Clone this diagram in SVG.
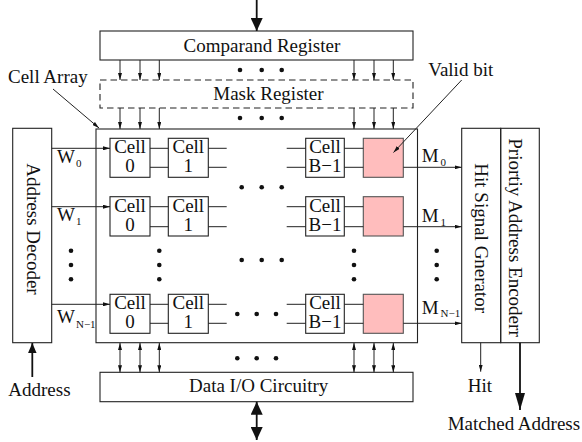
<svg xmlns="http://www.w3.org/2000/svg" width="582" height="442" viewBox="0 0 582 442">
<style>
text{font-family:"Liberation Serif","Times New Roman",serif;font-size:19px;fill:#111}
.box{fill:none;stroke:#222;stroke-width:1.1}
.cell{fill:#fff;stroke:#222;stroke-width:1.1}
.valid{fill:#ffbdbd;stroke:#555;stroke-width:1.1}
.ln{fill:none;stroke:#222;stroke-width:1}
.thick{fill:none;stroke:#111;stroke-width:1.8}
.dot{fill:#111}
.sub{font-size:11px}
.c{text-anchor:middle}
</style>
<defs>
<marker id="a" viewBox="0 0 7 4" refX="7" refY="2" markerWidth="7" markerHeight="4" markerUnits="userSpaceOnUse" orient="auto-start-reverse"><path d="M0,0L7,2L0,4z" fill="#111"/></marker>
<marker id="big" viewBox="0 0 13 12" refX="13" refY="6" markerWidth="13" markerHeight="12" markerUnits="userSpaceOnUse" orient="auto-start-reverse"><path d="M0,0L13,6L0,12z" fill="#111"/></marker>
<marker id="med" viewBox="0 0 10 8.5" refX="10" refY="4.25" markerWidth="10" markerHeight="8.5" markerUnits="userSpaceOnUse" orient="auto-start-reverse"><path d="M0,0L10,4.25L0,8.5z" fill="#111"/></marker>
<marker id="long" viewBox="0 0 17 10" refX="17" refY="5" markerWidth="17" markerHeight="10" markerUnits="userSpaceOnUse" orient="auto-start-reverse"><path d="M0,0L17,5L0,10z" fill="#111"/></marker>
</defs>

<g id="comparand-register"><rect class="box" x="100" y="31" width="313" height="29"/><text x="183.5" y="51.7">Comparand Register</text></g>
<g id="mask-register"><rect class="box" x="100" y="80" width="313" height="28" stroke-dasharray="6.5,4"/><text x="213.3" y="100">Mask Register</text></g>
<g id="address-decoder"><rect class="box" x="12.7" y="128.3" width="39" height="214.4"/><text transform="translate(26.5,163.3) rotate(90)">Address Decoder</text></g>
<g id="hit-signal-generator"><rect class="box" x="461.7" y="128.3" width="39" height="214.4"/><text transform="translate(475,163.3) rotate(90)">Hit Signal Gnerator</text></g>
<g id="priority-address-encoder"><rect class="box" x="500.7" y="128.3" width="38.6" height="214.4"/><text transform="translate(508.5,138.3) rotate(90)">Priortiy Address Encoderr</text></g>
<g id="data-io"><rect class="box" x="100" y="372.3" width="313" height="29.4"/><text x="189" y="391.7">Data I/O Circuitry</text></g>

<g id="cell-array">
<rect class="box" x="96" y="129" width="321.5" height="213.7"/>
<text x="8" y="83">Cell Array</text>
</g>

<g id="row-0">
<rect class="cell" x="110" y="138.3" width="40" height="39"/><text class="c" x="130" y="153.3">Cell</text><text class="c" x="130" y="172.3">0</text>
<rect class="cell" x="168.3" y="138.3" width="40" height="39"/><text class="c" x="188.3" y="153.3">Cell</text><text class="c" x="188.3" y="172.3">1</text>
<rect class="cell" x="305.7" y="138.3" width="38.6" height="39"/><text class="c" x="325" y="153.3">Cell</text><text class="c" x="325" y="172.3">B−1</text>
<rect class="valid" x="363.3" y="138.3" width="40" height="39"/>
</g>
<g id="row-1">
<rect class="cell" x="110" y="196.7" width="40" height="39.3"/><text class="c" x="130" y="211.7">Cell</text><text class="c" x="130" y="230.7">0</text>
<rect class="cell" x="168.3" y="196.7" width="40" height="39.3"/><text class="c" x="188.3" y="211.7">Cell</text><text class="c" x="188.3" y="230.7">1</text>
<rect class="cell" x="305.7" y="196.7" width="38.6" height="39.3"/><text class="c" x="325" y="211.7">Cell</text><text class="c" x="325" y="230.7">B−1</text>
<rect class="valid" x="363.3" y="196.7" width="40" height="39.3"/>
</g>
<g id="row-n-1">
<rect class="cell" x="110" y="294.3" width="40" height="39"/><text class="c" x="130" y="309.3">Cell</text><text class="c" x="130" y="328.3">0</text>
<rect class="cell" x="168.3" y="294.3" width="40" height="39"/><text class="c" x="188.3" y="309.3">Cell</text><text class="c" x="188.3" y="328.3">1</text>
<rect class="cell" x="305.7" y="294.3" width="38.6" height="39"/><text class="c" x="325" y="309.3">Cell</text><text class="c" x="325" y="328.3">B−1</text>
<rect class="valid" x="363.3" y="294.3" width="40" height="39"/>
</g>

<g id="labels">
<text x="57" y="162.7">W<tspan class="sub" dx="1" dy="4.5">0</tspan></text>
<text x="57" y="220.7">W<tspan class="sub" dx="1" dy="4.5">1</tspan></text>
<text x="57" y="323.3">W<tspan class="sub" dx="1" dy="4.5">N−1</tspan></text>
<text x="421.7" y="161.7">M<tspan class="sub" dx="2" dy="4">0</tspan></text>
<text x="421.7" y="221.7">M<tspan class="sub" dx="2" dy="4">1</tspan></text>
<text x="421.7" y="314.3">M<tspan class="sub" dx="2" dy="3">N−1</tspan></text>
<text x="428.3" y="76">Valid bit</text>
<text x="8.3" y="396">Address</text>
<text class="c" x="480" y="391.7">Hit</text>
<text x="447.7" y="430">Matched Address</text>
</g>

<g id="dots" class="dot">
<circle cx="240" cy="70" r="2.3"/><circle cx="261.7" cy="70" r="2.3"/><circle cx="281.7" cy="70" r="2.3"/>
<circle cx="240" cy="118" r="2.3"/><circle cx="261.7" cy="118" r="2.3"/><circle cx="281.7" cy="118" r="2.3"/>
<circle cx="241.7" cy="187.3" r="2.3"/><circle cx="261.7" cy="187.3" r="2.3"/><circle cx="281.7" cy="187.3" r="2.3"/>
<circle cx="241.7" cy="260" r="2.3"/><circle cx="261.7" cy="260" r="2.3"/><circle cx="281.7" cy="260" r="2.3"/>
<circle cx="237.3" cy="314" r="2.3"/><circle cx="256.7" cy="314" r="2.3"/><circle cx="276" cy="314" r="2.3"/>
<circle cx="237.3" cy="358.3" r="2.3"/><circle cx="256.7" cy="358.3" r="2.3"/><circle cx="276" cy="358.3" r="2.3"/>
<circle cx="71" cy="250.7" r="2.3"/><circle cx="71" cy="265" r="2.3"/><circle cx="71" cy="279.3" r="2.3"/>
<circle cx="159.3" cy="250.7" r="2.3"/><circle cx="159.3" cy="265" r="2.3"/><circle cx="159.3" cy="279.3" r="2.3"/>
<circle cx="354" cy="250.7" r="2.3"/><circle cx="354" cy="265" r="2.3"/><circle cx="354" cy="279.3" r="2.3"/>
<circle cx="436.7" cy="250.7" r="2.3"/><circle cx="436.7" cy="265" r="2.3"/><circle cx="436.7" cy="279.3" r="2.3"/>
</g>

<g id="connectors">
<line class="thick" x1="256.7" y1="0" x2="256.7" y2="31" marker-end="url(#big)"/>
<line class="thick" x1="256.7" y1="401.7" x2="256.7" y2="440" marker-start="url(#big)" marker-end="url(#big)"/>
<line class="thick" x1="32.3" y1="377" x2="32.3" y2="343" marker-end="url(#med)"/>
<line class="thick" x1="520" y1="342.7" x2="520" y2="410" marker-end="url(#long)"/>
<line class="ln" x1="480.7" y1="342.7" x2="480.7" y2="371.7" marker-end="url(#a)"/>
<g class="ln" marker-end="url(#a)">
<line x1="120" y1="60" x2="120" y2="80"/><line x1="140" y1="60" x2="140" y2="80"/><line x1="159.3" y1="60" x2="159.3" y2="80"/>
<line x1="354" y1="60" x2="354" y2="80"/><line x1="374" y1="60" x2="374" y2="80"/><line x1="393.3" y1="60" x2="393.3" y2="80"/>
<line x1="120" y1="108" x2="120" y2="129"/><line x1="140" y1="108" x2="140" y2="129"/><line x1="159.3" y1="108" x2="159.3" y2="129"/>
<line x1="354" y1="108" x2="354" y2="129"/><line x1="374" y1="108" x2="374" y2="129"/><line x1="393.3" y1="108" x2="393.3" y2="129"/>
</g>
<g class="ln" marker-start="url(#a)" marker-end="url(#a)">
<line x1="120" y1="343" x2="120" y2="372.3"/><line x1="140" y1="343" x2="140" y2="372.3"/><line x1="159.3" y1="343" x2="159.3" y2="372.3"/>
<line x1="354" y1="343" x2="354" y2="372.3"/><line x1="374" y1="343" x2="374" y2="372.3"/><line x1="393.3" y1="343" x2="393.3" y2="372.3"/>
</g>
<g class="ln" marker-end="url(#a)">
<line x1="51.7" y1="148.3" x2="110" y2="148.3"/>
<line x1="51.7" y1="206.7" x2="110" y2="206.7"/>
<line x1="51.7" y1="304.3" x2="110" y2="304.3"/>
<line x1="403.3" y1="167.3" x2="461.7" y2="167.3"/>
<line x1="403.3" y1="226.7" x2="461.7" y2="226.7"/>
<line x1="403.3" y1="323.3" x2="461.7" y2="323.3"/>
<line x1="53" y1="89" x2="99" y2="128"/>
<line x1="461.7" y1="80" x2="393.5" y2="152.5"/>
</g>
<path class="ln" d="M150,148.3H168.3M150,167.3H168.3M208.3,148.3H226.7M208.3,167.3H226.7M286.7,148.3H305.7M286.7,167.3H305.7M344.3,148.3H363.3M344.3,167.3H363.3"/>
<path class="ln" d="M150,206.7H168.3M150,226.7H168.3M208.3,206.7H226.7M208.3,226.7H226.7M286.7,206.7H305.7M286.7,226.7H305.7M344.3,206.7H363.3M344.3,226.7H363.3"/>
<path class="ln" d="M150,304.3H168.3M150,323.3H168.3M208.3,304.3H226.7M208.3,323.3H226.7M286.7,304.3H305.7M286.7,323.3H305.7M344.3,304.3H363.3M344.3,323.3H363.3"/>
</g>
</svg>
